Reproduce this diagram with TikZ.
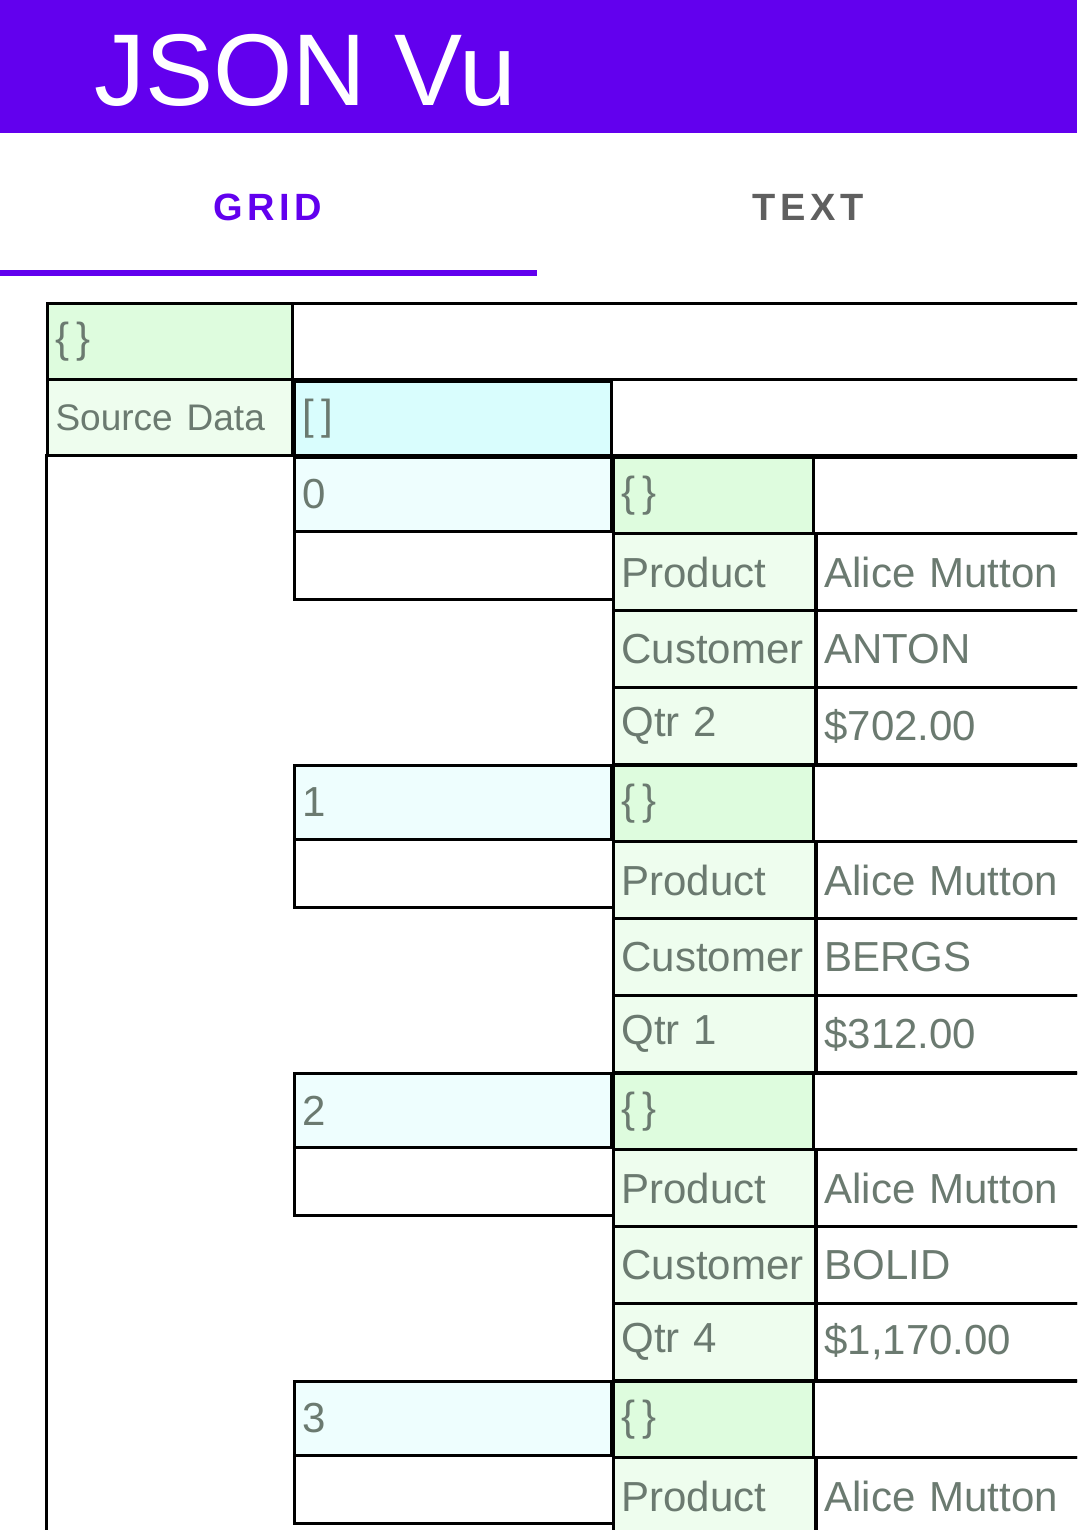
\documentclass[tikz,border=0pt]{standalone}
\usepackage{fontspec}
\setmainfont{Liberation Sans}
\definecolor{appbar}{HTML}{6200EE}
\definecolor{tabgray}{HTML}{5F5F5F}
\definecolor{keygray}{HTML}{6B7A70}
\definecolor{objgreen}{HTML}{DEFCDE}
\definecolor{keygreen}{HTML}{EEFDEE}
\definecolor{arrcyan}{HTML}{D9FDFD}
\definecolor{idxcyan}{HTML}{EEFEFE}
\tikzset{
  cell/.style={draw=black, line width=1.5pt, anchor=north west,
    inner xsep=4pt, inner ysep=0pt, text=keygray, align=left,
    font=\fontsize{21}{24}\selectfont},
  tab/.style={font=\bfseries\fontsize{19}{22}\selectfont}
}
% name, x, y, width, height, fill, text (pixel units)
\newcommand{\gridcell}[7]{%
  \pgfmathsetmacro\tw{#4*0.5-8}%
  \node[cell, fill=#6, minimum width=#4*0.5pt, minimum height=#5*0.5pt,
    text width=\tw pt] (#1) at (#2,#3) {#7};}
\begin{document}
\begin{tikzpicture}[x=0.5pt,y=-0.5pt]
  \useasboundingbox (0,0) rectangle (1077,1530);
  \clip (0,0) rectangle (1077,1530);
  % app bar and tabs
  \fill[appbar] (0,0) rectangle (1077,133);
  \node[text=white, anchor=base west, inner sep=0pt,
    font=\fontsize{51}{54}\selectfont] (title) at (94,106) {JSON Vu};
  \node[tab, text=appbar] (grid) at (268,207) {\addfontfeature{LetterSpace=12}GRID};
  \node[tab, text=tabgray] (text) at (808,207) {\addfontfeature{LetterSpace=12}TEXT};
  \fill[appbar] (0,270) rectangle (537,276);
  % root object
  \gridcell{root}{46}{302}{245}{76}{objgreen}{\{\,\}}
  \gridcell{rootv}{291}{302}{800}{76}{white}{}
  \gridcell{src}{46}{378}{245}{76}{keygreen}{\fontsize{18.5}{22}\selectfont Source Data}
  \gridcell{srcarr}{293}{380}{317}{74}{arrcyan}{[\,]}
  \gridcell{srcv}{610}{378}{480}{76}{white}{}
  \draw[line width=1.5pt] (46,454) -- (46,1540);
  % array items
  \foreach \i/\cust/\qtr/\amt in {0/ANTON/Qtr 2/{\$702.00},
      1/BERGS/Qtr 1/{\$312.00}, 2/BOLID/Qtr 4/{\$1,170.00}}
  {
    \pgfmathsetmacro\y{456+308*\i}
    \gridcell{idx\i}{293}{\y}{317}{74}{idxcyan}{\i}
    \gridcell{pad\i}{293}{\y+74}{319}{68}{white}{}
    \gridcell{obj\i}{612}{\y}{200}{76}{objgreen}{\{\,\}}
    \gridcell{objv\i}{812}{\y}{280}{76}{white}{}
    \gridcell{pk\i}{612}{\y+76}{202}{77}{keygreen}{Product}
    \gridcell{pv\i}{815}{\y+76}{280}{77}{white}{Alice Mutton}
    \gridcell{ck\i}{612}{\y+153}{202}{77}{keygreen}{Customer}
    \gridcell{cv\i}{815}{\y+153}{280}{77}{white}{\cust}
    \gridcell{qk\i}{612}{\y+230}{202}{77}{keygreen}{\qtr}
    \gridcell{qv\i}{815}{\y+230}{280}{77}{white}{\amt}
  }
  % last item, cut by the bottom edge
  \gridcell{idx3}{293}{1380}{317}{74}{idxcyan}{3}
  \gridcell{pad3}{293}{1454}{319}{68}{white}{}
  \gridcell{obj3}{612}{1380}{200}{76}{objgreen}{\{\,\}}
  \gridcell{objv3}{812}{1380}{280}{76}{white}{}
  \gridcell{pk3}{612}{1456}{202}{77}{keygreen}{Product}
  \gridcell{pv3}{815}{1456}{280}{77}{white}{Alice Mutton}
\end{tikzpicture}
\end{document}
